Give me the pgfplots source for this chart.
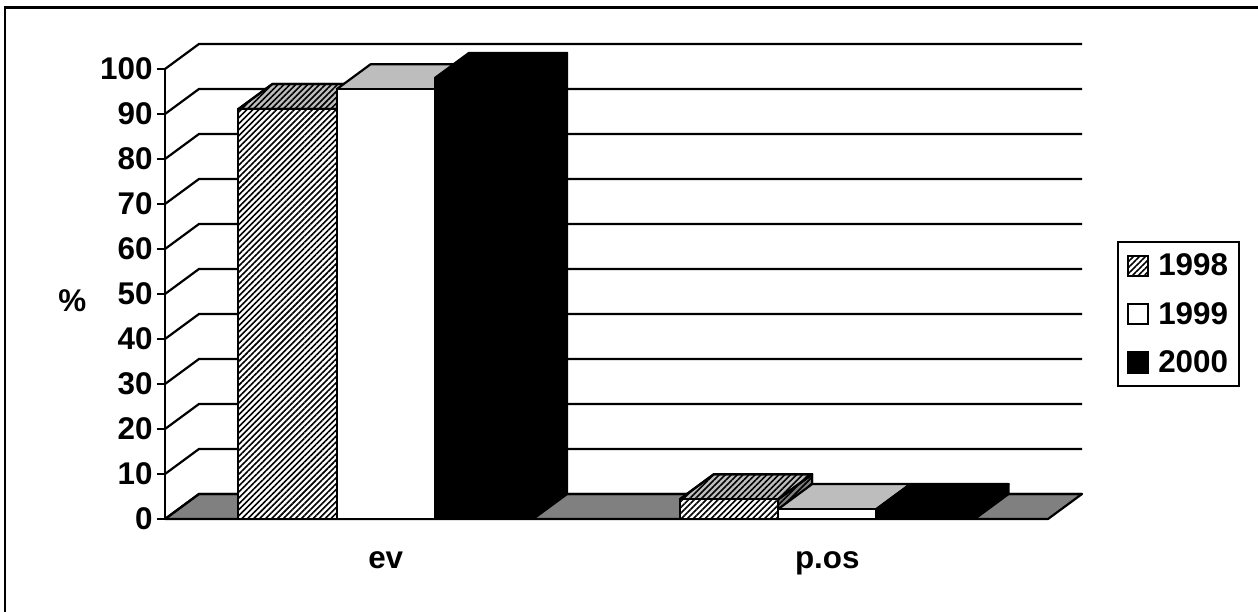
\documentclass[border=0pt]{standalone}
\usepackage{fontspec}
\setmainfont{Liberation Sans}
\usepackage{pgfplots}
\pgfplotsset{compat=1.18}
\usetikzlibrary{patterns.meta}
\definecolor{floorgray}{HTML}{808080}
\definecolor{topgray}{HTML}{BDBDBD}
\tikzset{hatch/.style={pattern={Lines[angle=45,distance=4.2bp,line width=1.6bp]},pattern color=black}}
\pgfplotsset{
  face/.style={line width=2.2bp,line join=round,forget plot},
  swatch/.style={legend image code/.code={\draw[##1,line width=2.2bp] (0bp,-10bp) rectangle (20bp,10bp);}}
}
\newcommand{\chartfont}{\fontsize{31.5}{35}\selectfont\bfseries}

% back wall lines, one polyline per level
\pgfplotstableread{
x y
0 0
0.077 5.56
2.077 5.56
nan nan
0 10
0.077 15.56
2.077 15.56
nan nan
0 20
0.077 25.56
2.077 25.56
nan nan
0 30
0.077 35.56
2.077 35.56
nan nan
0 40
0.077 45.56
2.077 45.56
nan nan
0 50
0.077 55.56
2.077 55.56
nan nan
0 60
0.077 65.56
2.077 65.56
nan nan
0 70
0.077 75.56
2.077 75.56
nan nan
0 80
0.077 85.56
2.077 85.56
nan nan
0 90
0.077 95.56
2.077 95.56
nan nan
0 100
0.077 105.56
2.077 105.56
}\wall

\begin{document}
\begin{tikzpicture}
\path[use as bounding box] (-165bp,-93bp) rectangle (1093bp,519bp);
% only the left and top of the chart border fall inside the picture
\draw[line width=2.2bp] (-160bp,-93bp) -- (-160bp,511.5bp) -- (1093bp,511.5bp);
\begin{axis}[
  at={(0,0)}, anchor=south west,
  scale only axis, width=883bp, height=450bp,
  xmin=0, xmax=2, ymin=0, ymax=100,
  clip=false,
  axis x line=bottom, axis y line=left,
  axis line style={-,line width=2.2bp},
  tick style={line width=2.2bp,black},
  major tick length=8bp,
  tick align=outside,
  xtick={0.5,1.5}, xticklabels={ev,p.os},
  x tick style={draw=none},
  extra x ticks={0,1,2}, extra x tick labels={},
  extra x tick style={tick style={draw=black,line width=2.2bp}},
  ytick={0,10,...,100},
  /pgf/number format/assume math mode=true,
  tick label style={font=\chartfont},
  x tick label style={yshift=-21bp},
  y tick label style={xshift=-1bp},
  ylabel={\%},
  ylabel style={font=\chartfont,rotate=-90,at={(axis description cs:-0.105,0.485)},anchor=center},
  legend style={at={(axis description cs:1.0781,0.6178)},anchor=north west,
    draw=black,line width=2.2bp,font=\chartfont,fill=white,
    row sep=21bp,inner xsep=9bp,inner ysep=10bp,
    cells={anchor=west},
    /tikz/every odd column/.append style={column sep=7bp}},
  legend cell align=left,
]
% floor
\addplot[face,fill=floorgray] coordinates {(0,0)(0.077,5.56)(2.077,5.56)(2,0)(0,0)};
% wall lines
\addplot[black,line width=2.2bp,forget plot,unbounded coords=jump] table {\wall};

% 1998
\addplot[face,preaction={fill=floorgray},hatch] coordinates {(0.38875,0)(0.46575,5.56)(0.46575,96.66)(0.38875,91.1)(0.38875,0)};
\addplot[face,preaction={fill=topgray},hatch] coordinates {(0.16625,91.1)(0.24325,96.66)(0.46575,96.66)(0.38875,91.1)(0.16625,91.1)};
\addplot[face,preaction={fill=floorgray},hatch] coordinates {(1.38875,0)(1.46575,5.56)(1.46575,9.96)(1.38875,4.4)(1.38875,0)};
\addplot[face,preaction={fill=topgray},hatch] coordinates {(1.16625,4.4)(1.24325,9.96)(1.46575,9.96)(1.38875,4.4)(1.16625,4.4)};
\addplot[ybar,bar width=0.2225,bar shift=-0.2225,draw=black,line width=2.2bp,preaction={fill=white},hatch,swatch]
  coordinates {(0.5,91.1)(1.5,4.4)};
\addlegendentry{1998}

% 1999
\addplot[face,fill=floorgray] coordinates {(0.61125,0)(0.68825,5.56)(0.68825,101.06)(0.61125,95.5)(0.61125,0)};
\addplot[face,fill=topgray] coordinates {(0.38875,95.5)(0.46575,101.06)(0.68825,101.06)(0.61125,95.5)(0.38875,95.5)};
\addplot[face,fill=floorgray] coordinates {(1.61125,0)(1.68825,5.56)(1.68825,7.76)(1.61125,2.2)(1.61125,0)};
\addplot[face,fill=topgray] coordinates {(1.38875,2.2)(1.46575,7.76)(1.68825,7.76)(1.61125,2.2)(1.38875,2.2)};
\addplot[ybar,bar width=0.2225,bar shift=0,draw=black,fill=white,line width=2.2bp,swatch]
  coordinates {(0.5,95.5)(1.5,2.2)};
\addlegendentry{1999}

% 2000
\addplot[face,fill=black] coordinates {(0.83375,0)(0.91075,5.56)(0.91075,103.56)(0.83375,98)(0.83375,0)};
\addplot[face,fill=black] coordinates {(0.61125,98)(0.68825,103.56)(0.91075,103.56)(0.83375,98)(0.61125,98)};
\addplot[face,fill=black] coordinates {(1.83375,0)(1.91075,5.56)(1.91075,7.76)(1.83375,2.2)(1.83375,0)};
\addplot[face,fill=black] coordinates {(1.61125,2.2)(1.68825,7.76)(1.91075,7.76)(1.83375,2.2)(1.61125,2.2)};
\addplot[ybar,bar width=0.2225,bar shift=0.2225,draw=black,fill=black,line width=2.2bp,swatch]
  coordinates {(0.5,98)(1.5,2.2)};
\addlegendentry{2000}
\end{axis}
\end{tikzpicture}
\end{document}
